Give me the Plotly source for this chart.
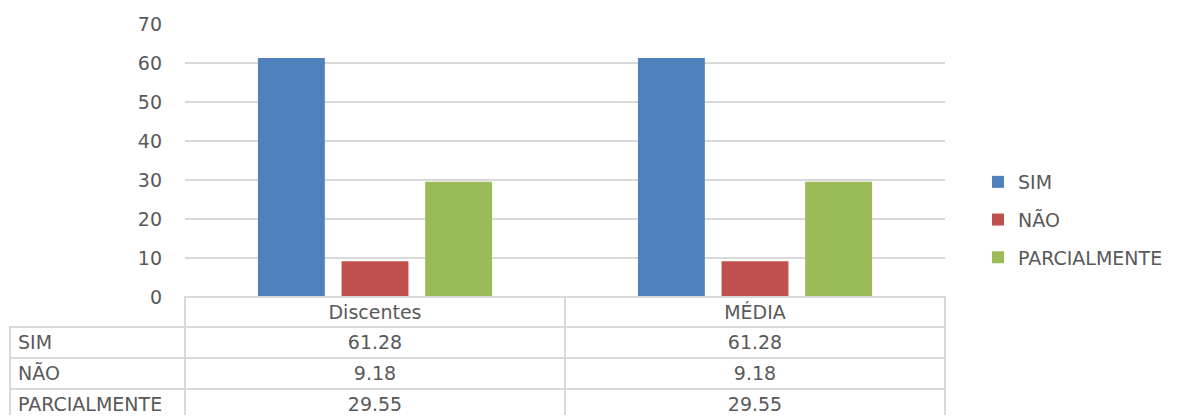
import plotly.graph_objs as go

# the page body adds an 8px margin, so the figure is 8px smaller and coords shifted
OFF = 8
W, H = 1184 - OFF, 416 - OFF

categories = ['Discentes', 'MÉDIA']
series_names = ['SIM', 'NÃO', 'PARCIALMENTE']
sim = [61.28, 61.28]
nao = [9.18, 9.18]
parcial = [29.55, 29.55]
y_ticks = [0, 10, 20, 30, 40, 50, 60, 70]

colors = ['#4f81bd', '#c0504d', '#9bbb59']
grid = '#d9d9d9'
txt = '#595959'
font = 'DejaVu Sans'
fs = 19


def px_x(v):
    return (v - OFF) / W


def px_y(v):
    return 1 - (v - OFF) / H


values = [sim, nao, parcial]

fig = go.Figure()
for i, (name, vals) in enumerate(zip(series_names, values)):
    fig.add_trace(go.Bar(
        x=categories, y=vals, name=name,
        marker=dict(color=colors[i], line=dict(width=0)),
        legendgroup=name,
    ))

# data table under the plot
cols = [series_names] + [[f'{values[s][c]:.2f}' for s in range(3)] for c in range(len(categories))]
clear = 'rgba(0,0,0,0)'
fig.add_trace(go.Table(
    domain=dict(x=[px_x(10), px_x(945)], y=[0, px_y(297)]),
    columnwidth=[175, 380, 380],
    header=dict(
        values=[''] + categories,
        height=30,
        align='center',
        line=dict(color=[clear, grid, grid], width=1.5),
        fill=dict(color=[clear, 'white', 'white']),
        font=dict(family=font, size=fs, color=txt),
    ),
    cells=dict(
        values=cols,
        height=31,
        align=['left', 'center', 'center'],
        line=dict(color=grid, width=1.5),
        fill=dict(color='white'),
        font=dict(family=font, size=fs, color=txt),
    ),
))

fig.update_layout(
    width=W, height=H,
    margin=dict(l=0, r=0, t=0, b=0),
    paper_bgcolor='white', plot_bgcolor='white',
    barmode='group', bargap=0.34, bargroupgap=0.2,
    font=dict(family=font, size=fs, color=txt),
    xaxis=dict(domain=[px_x(185), px_x(945)], showticklabels=False, automargin=False,
               showgrid=False, zeroline=False, showline=False, ticks=''),
    yaxis=dict(domain=[px_y(297), px_y(24)], range=[0, 70], tickvals=y_ticks,
               automargin=False,
               showgrid=True, gridcolor=grid, gridwidth=1.5, zeroline=False,
               showline=False, ticks='', ticklabelstandoff=22,
               tickfont=dict(family=font, size=fs, color=txt)),
    legend=dict(x=px_x(978), y=px_y(220), xanchor='left', yanchor='middle',
                font=dict(family=font, size=fs, color=txt),
                tracegroupgap=10, itemwidth=30, bgcolor='rgba(0,0,0,0)'),
    showlegend=True,
)

fig.write_html('out.html')
